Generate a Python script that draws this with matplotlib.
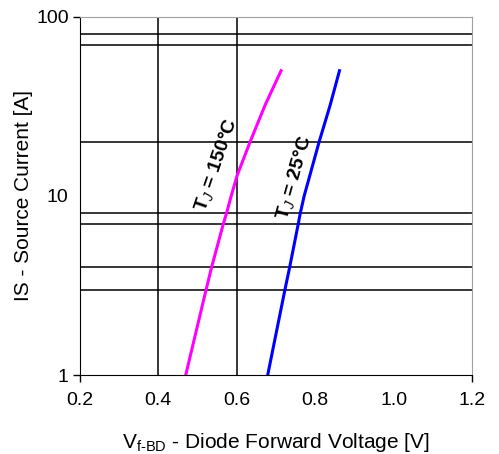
import numpy as np
import matplotlib
matplotlib.use('Agg')
import matplotlib.pyplot as plt

plt.rcParams['font.family'] = ['Liberation Sans', 'DejaVu Sans']
plt.rcParams['mathtext.fontset'] = 'custom'
plt.rcParams['mathtext.rm'] = 'Liberation Sans'
plt.rcParams['mathtext.bf'] = 'Liberation Sans:bold'
plt.rcParams['mathtext.it'] = 'Liberation Sans:italic'

# curve data
i_150 = [1, 3, 4, 7, 8, 10, 13, 20, 32, 42, 50]
v_150 = [0.470, 0.522, 0.536, 0.566, 0.574, 0.586, 0.601, 0.634, 0.672, 0.697, 0.713]
i_25 = [1, 3, 4, 7, 8, 10, 20, 32, 50]
v_25 = [0.679, 0.723, 0.735, 0.757, 0.762, 0.772, 0.810, 0.838, 0.862]

# grid lines present in the chart
h_lines = [3, 4, 7, 8, 20, 70, 80]
v_lines = [0.4, 0.6]
x_ticks = [0.2, 0.4, 0.6, 0.8, 1.0, 1.2]
y_ticks = [1, 10, 100]

fig = plt.figure(figsize=(4.99, 4.54), dpi=100)
ax = fig.add_axes([0.160, 0.174, 0.786, 0.789])

for h in h_lines:
    ax.axhline(h, color='black', lw=1.1, zorder=1)
for v in v_lines:
    ax.axvline(v, color='black', lw=1.1, zorder=1)

ax.plot(v_150, i_150, color='#FF00FF', lw=2.2, zorder=3)
ax.plot(v_25, i_25, color='#0000FF', lw=2.2, zorder=3)

ax.set_yscale('log')
ax.set_xlim(0.2, 1.2)
ax.set_ylim(1, 100)
ax.set_xticks(x_ticks)
ax.set_xticklabels(['%.1f' % x for x in x_ticks])
ax.set_yticks(y_ticks)
ax.set_yticklabels([str(y) for y in y_ticks])
ax.yaxis.set_minor_locator(matplotlib.ticker.NullLocator())
ax.tick_params(labelsize=14, length=5, width=1, color='black')
ax.tick_params(axis='x', pad=7)
ax.tick_params(axis='y', pad=3)

# only the end ticks are drawn in the reference
for t in ax.xaxis.get_major_ticks()[1:-1]:
    t.tick1line.set_visible(False)
ax.yaxis.get_major_ticks()[1].tick1line.set_visible(False)

for s in ['top', 'right']:
    ax.spines[s].set_color('#A0A0A0')
for s in ['left', 'bottom']:
    ax.spines[s].set_color('black')

ax.text(0.549, 15.0, r'$\mathbf{T_{\mathit{J}}}$ = 150°C', rotation=71,
        ha='center', va='center', fontsize=14, fontweight='bold', fontstyle='normal')
ax.text(0.746, 12.6, r'$\mathbf{T_{\mathit{J}}}$ = 25°C', rotation=74,
        ha='center', va='center', fontsize=14, fontweight='bold', fontstyle='normal')

ax.set_xlabel('V$_{\\mathregular{f\u2010BD}}$ - Diode Forward Voltage [V]', fontsize=15)
ax.set_ylabel('IS - Source Current [A]', fontsize=15)
ax.xaxis.set_label_coords(0.5, -0.155)
ax.yaxis.set_label_coords(-0.12, 0.5)

fig.savefig('out.png', dpi=100)
